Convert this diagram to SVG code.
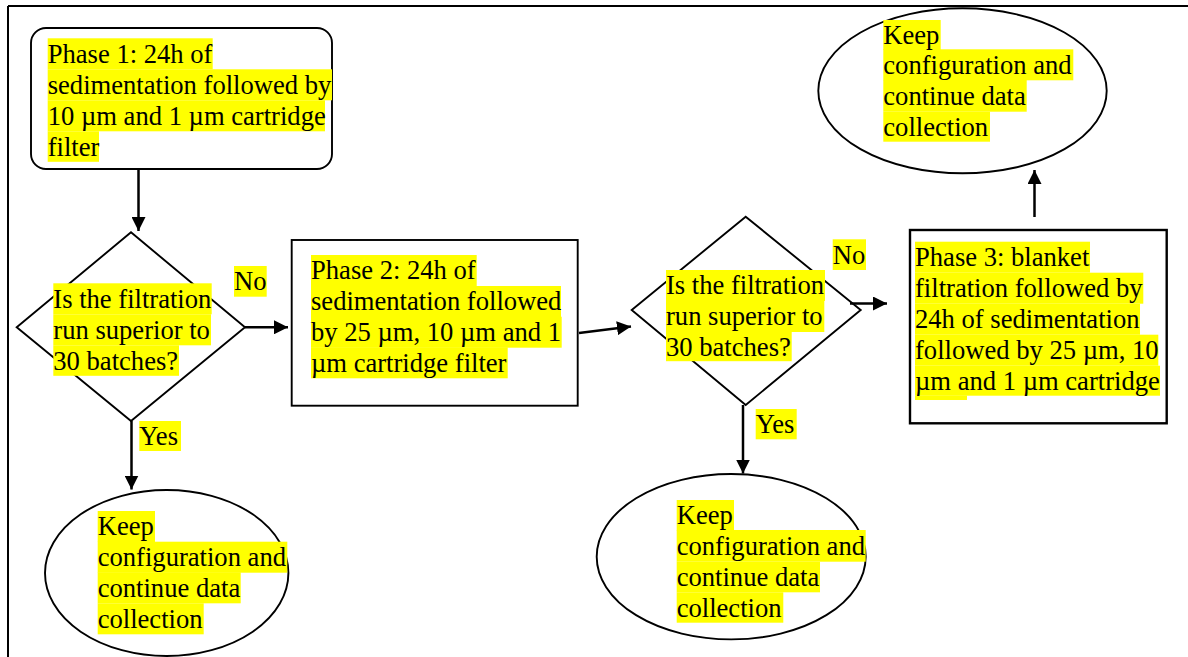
<svg xmlns="http://www.w3.org/2000/svg" width="1188" height="657" viewBox="0 0 1188 657">
<style>
.shape{fill:none;stroke:#000;stroke-width:1.9}
.hl{fill:#ffff00}
.t{font-family:"Liberation Serif","Times New Roman","DejaVu Serif",serif;font-size:26.6px;fill:#000}
.conn{stroke:#000;stroke-width:2.5;fill:none}
.frame{stroke:#000;stroke-width:2;fill:none}
</style>
<defs>
<marker id="arr" viewBox="0 0 14 14" refX="14" refY="7" markerWidth="14" markerHeight="14" markerUnits="userSpaceOnUse" orient="auto">
<path d="M0,0 L14,7 L0,14 z" fill="#000"/>
</marker>
</defs>
<rect width="1188" height="657" fill="#fff"/>
<g id="frame">
<line class="frame" x1="8" y1="6" x2="1188" y2="6"/>
<line class="frame" x1="8" y1="6" x2="8" y2="657"/>
</g>
<g id="phase1">
<rect class="shape" x="31" y="28" width="301" height="141" rx="15" ry="15"/>
<rect class="hl" x="47.7" y="38.3" width="165" height="31"/>
<rect class="hl" x="47.7" y="69.3" width="284.3" height="31"/>
<rect class="hl" x="47.7" y="100.3" width="277.3" height="31"/>
<rect class="hl" x="47.7" y="131.3" width="51.3" height="30.5"/>
<text class="t" x="47.7" y="63">Phase 1: 24h of</text>
<text class="t" x="47.7" y="94">sedimentation followed by</text>
<text class="t" x="47.7" y="125">10 µm and 1 µm cartridge</text>
<text class="t" x="47.7" y="156">filter</text>
</g>
<g id="decision1">
<polygon class="shape" points="131,232.3 245,327.3 131,421 16.7,327.3"/>
<rect class="hl" x="53.3" y="283.3" width="158.4" height="31"/>
<rect class="hl" x="53.3" y="314.3" width="157.7" height="31"/>
<rect class="hl" x="53.3" y="345.3" width="125.7" height="30.5"/>
<text class="t" x="53.3" y="307.7">Is the filtration</text>
<text class="t" x="53.3" y="338.7">run superior to</text>
<text class="t" x="53.3" y="369.7">30 batches?</text>
</g>
<g id="label-no1">
<rect class="hl" x="234" y="266" width="32.7" height="30.7"/>
<text class="t" x="234" y="290.4">No</text>
</g>
<g id="label-yes1">
<rect class="hl" x="139.3" y="421" width="41.7" height="30"/>
<text class="t" x="139.3" y="445.4">Yes</text>
</g>
<g id="end1">
<ellipse class="shape" cx="166.7" cy="573" rx="121.7" ry="83"/>
<rect class="hl" x="97.7" y="511" width="57.3" height="31"/>
<rect class="hl" x="97.7" y="541.7" width="189.6" height="31"/>
<rect class="hl" x="97.7" y="572.3" width="143" height="31"/>
<rect class="hl" x="97.7" y="603.3" width="106" height="31"/>
<text class="t" x="97.7" y="535.4">Keep</text>
<text class="t" x="97.7" y="566.1">configuration and</text>
<text class="t" x="97.7" y="596.7">continue data</text>
<text class="t" x="97.7" y="627.7">collection</text>
</g>
<g id="phase2">
<rect class="shape" x="291.7" y="240" width="286" height="165.7"/>
<rect class="hl" x="311" y="255" width="165.7" height="31"/>
<rect class="hl" x="311" y="286" width="250" height="31"/>
<rect class="hl" x="311" y="316.7" width="250.7" height="31"/>
<rect class="hl" x="311" y="347.3" width="196.7" height="31"/>
<text class="t" x="311" y="279.4">Phase 2: 24h of</text>
<text class="t" x="311" y="310.4">sedimentation followed</text>
<text class="t" x="311" y="341.1">by 25 µm, 10 µm and 1</text>
<text class="t" x="311" y="371.7">µm cartridge filter</text>
</g>
<g id="decision2">
<polygon class="shape" points="745.7,216.7 860.7,310 745.7,405 631.7,310"/>
<rect class="hl" x="666" y="270" width="159" height="31"/>
<rect class="hl" x="666" y="301" width="158.3" height="31"/>
<rect class="hl" x="666" y="331.7" width="125.7" height="29.5"/>
<text class="t" x="666" y="294.4">Is the filtration</text>
<text class="t" x="666" y="325.4">run superior to</text>
<text class="t" x="666" y="356.1">30 batches?</text>
</g>
<g id="label-no2">
<rect class="hl" x="832.7" y="239.3" width="33.3" height="30.7"/>
<text class="t" x="832.7" y="263.7">No</text>
</g>
<g id="label-yes2">
<rect class="hl" x="755.7" y="409" width="41" height="30.3"/>
<text class="t" x="755.7" y="433.4">Yes</text>
</g>
<g id="end2">
<ellipse class="shape" cx="731.2" cy="556.7" rx="134.5" ry="82.7"/>
<rect class="hl" x="676.7" y="500" width="57.3" height="30.5"/>
<rect class="hl" x="676.7" y="530" width="189" height="31.7"/>
<rect class="hl" x="676.7" y="561.7" width="143.3" height="30.6"/>
<rect class="hl" x="676.7" y="592.3" width="106.6" height="30.4"/>
<text class="t" x="676.7" y="524.4">Keep</text>
<text class="t" x="676.7" y="555">configuration and</text>
<text class="t" x="676.7" y="586">continue data</text>
<text class="t" x="676.7" y="616.7">collection</text>
</g>
<g id="phase3">
<rect class="shape" x="910" y="230" width="256.7" height="193.3" style="stroke-width:2.4"/>
<rect class="hl" x="915" y="241.7" width="175" height="31"/>
<rect class="hl" x="915" y="272.7" width="228.3" height="31"/>
<rect class="hl" x="915" y="303.7" width="225" height="31"/>
<rect class="hl" x="915" y="334.7" width="243.3" height="31"/>
<rect class="hl" x="915" y="365.7" width="245" height="30"/>
<rect class="hl" x="915" y="395.5" width="52" height="4.5"/>
<text class="t" x="915" y="266">Phase 3: blanket</text>
<text class="t" x="915" y="297">filtration followed by</text>
<text class="t" x="915" y="328">24h of sedimentation</text>
<text class="t" x="915" y="359">followed by 25 µm, 10</text>
<text class="t" x="915" y="390">µm and 1 µm cartridge</text>
</g>
<g id="end3">
<ellipse class="shape" cx="962.5" cy="90.8" rx="144.2" ry="82.5"/>
<rect class="hl" x="883.3" y="20" width="57.4" height="30"/>
<rect class="hl" x="883.3" y="49.3" width="190" height="31"/>
<rect class="hl" x="883.3" y="80" width="143.4" height="31.7"/>
<rect class="hl" x="883.3" y="111.7" width="106.7" height="30"/>
<text class="t" x="883.3" y="44.4">Keep</text>
<text class="t" x="883.3" y="74">configuration and</text>
<text class="t" x="883.3" y="104.6">continue data</text>
<text class="t" x="883.3" y="136">collection</text>
</g>
<g id="connectors">
<line class="conn" x1="138.5" y1="169" x2="138.5" y2="231" marker-end="url(#arr)"/>
<line class="conn" x1="245" y1="327.3" x2="288" y2="327.3" marker-end="url(#arr)"/>
<line class="conn" x1="579" y1="333" x2="631" y2="326.5" marker-end="url(#arr)"/>
<line class="conn" x1="850" y1="303.5" x2="887" y2="303.5" marker-end="url(#arr)"/>
<line class="conn" x1="131.5" y1="421" x2="131.5" y2="489.5" marker-end="url(#arr)"/>
<line class="conn" x1="743" y1="405" x2="743" y2="473.5" marker-end="url(#arr)"/>
<line class="conn" x1="1034.5" y1="217" x2="1034.5" y2="170" marker-end="url(#arr)"/>
</g>
</svg>
